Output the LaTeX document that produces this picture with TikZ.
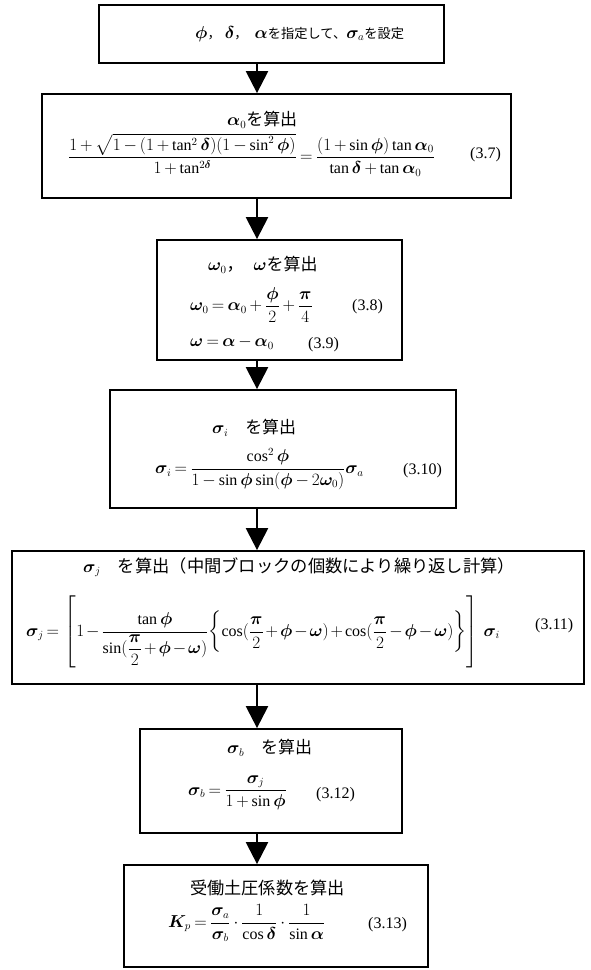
\documentclass[tikz,border=0pt]{standalone}
\usepackage{amsmath}
\usepackage{bm}
\usepackage{fontspec}
\setmainfont{Liberation Serif}
\newfontfamily\jp[Scale=1.06]{Noto Sans CJK JP}
\usetikzlibrary{arrows.meta}
\newcommand{\gphi}{\bm{\phi}}
\newcommand{\gdel}{\bm{\delta}}
\newcommand{\galp}{\bm{\alpha}}
\newcommand{\gome}{\bm{\omega}}
\newcommand{\gsig}{\bm{\sigma}}
\newcommand{\gpi}{\bm{\pi}}
\newcommand{\jpa}{\jp\fontsize{12.5}{15}\selectfont}
\newcommand{\jpb}{\jp\fontsize{16.3}{19}\selectfont}
\newcommand{\jpc}{\jp\fontsize{16.2}{19}\selectfont}
\newcommand{\tightmath}{\medmuskip 3mu\relax\thickmuskip 3.5mu\relax}
\newcommand{\tightermath}{\medmuskip 2mu\relax\thickmuskip 3mu\relax}
\tikzset{
  box/.style={draw, line width=1.8pt, inner sep=0pt},
  flow/.style={line width=2.4pt, -{Triangle[width=22pt,length=22pt]}},
  txt/.style={inner sep=0pt, anchor=west, font=\fontsize{16}{19}\selectfont},
  eqn/.style={inner sep=0pt, anchor=west, font=\fontsize{16}{19}\selectfont\tightmath},
  eqnt/.style={inner sep=0pt, anchor=west, font=\fontsize{16}{19}\selectfont\tightermath}
}
\begin{document}
\begin{tikzpicture}[x=1pt,y=-1pt]
\useasboundingbox (0,0) rectangle (590,970);
% boxes
\node[box, minimum width=345pt, minimum height=58pt]  (b1) at (271.5,34) {};
\node[box, minimum width=469pt, minimum height=104pt] (b2) at (276.5,146) {};
\node[box, minimum width=245pt, minimum height=120pt] (b3) at (279.5,300) {};
\node[box, minimum width=346pt, minimum height=118pt] (b4) at (283,449) {};
\node[box, minimum width=572pt, minimum height=133pt] (b5) at (298,617.5) {};
\node[box, minimum width=262pt, minimum height=104pt] (b6) at (271,781) {};
\node[box, minimum width=304pt, minimum height=102pt] (b7) at (276,916) {};
% connectors
\coordinate (ax) at (257,0);
\draw[flow] (ax |- b1.south) -- (ax |- b2.north);
\draw[flow] (ax |- b2.south) -- (ax |- b3.north);
\draw[flow] (ax |- b3.south) -- (ax |- b4.north);
\draw[flow] (ax |- b4.south) -- (ax |- b5.north);
\draw[flow] (ax |- b5.south) -- (ax |- b6.north);
\draw[flow] (ax |- b6.south) -- (ax |- b7.north);
% box 1
\node[txt] (t1) at (195,34) {$\gphi${\jpa ，}\hspace{4pt}$\gdel${\jpa ，}\hspace{7pt}$\galp${\jpa を指定して、}$\gsig_a${\jpa を設定}};
% box 2
\node[txt] (t2) at (227,120) {$\galp_0${\jp を算出}};
\node[eqn] (e7) at (68,155) {$\dfrac{1+\sqrt{1-(1+\tan^2\gdel)(1-\sin^2\gphi)}}{1+\tan^{2\gdel}}=\dfrac{(1+\sin\gphi)\tan\galp_0}{\tan\gdel+\tan\galp_0}$};
\node[txt] (n7) at (470,155) {(3.7)};
% box 3
\node[txt] (t3) at (208,265) {$\gome_0${\jp ，}\hspace{10pt}$\gome${\jp を算出}};
\node[eqn] (e8) at (190,305) {$\gome_0=\galp_0+\dfrac{\gphi}{2}+\dfrac{\gpi}{4}$};
\node[txt] (n8) at (352,307) {(3.8)};
\node[eqn] (e9) at (190,343) {$\gome=\galp-\galp_0$};
\node[txt] (n9) at (308,345) {(3.9)};
% box 4
\node[txt] (t4) at (212,428) {$\gsig_i${\jp 　を算出}};
\node[eqn] (e10) at (155,469) {$\gsig_i=\dfrac{\cos^2\gphi}{1-\sin\gphi\sin(\gphi-2\gome_0)}\gsig_a$};
\node[txt] (n10) at (403,471) {(3.10)};
% box 5
\node[txt] (t5) at (83,567) {$\gsig_j${\jpb 　を算出（中間ブロックの個数により繰り返し計算）}};
\node[eqnt] (e11) at (26,632) {$\gsig_j=\,\left[1-\dfrac{\tan\gphi}{\sin(\dfrac{\gpi}{2}+\gphi-\gome)}\biggl\{\cos(\dfrac{\gpi}{2}+\gphi-\gome)+\cos(\dfrac{\gpi}{2}-\gphi-\gome)\biggr\}\right]\,\gsig_i$};
\node[txt] (n11) at (535,626) {(3.11)};
% box 6
\node[txt] (t6) at (227,748) {$\gsig_b${\jp 　を算出}};
\node[eqn] (e12) at (188,793) {$\gsig_b=\dfrac{\gsig_j}{1+\sin\gphi}$};
\node[txt] (n12) at (316,795) {(3.12)};
% box 7
\node[txt] (t7) at (190,888) {{\jpc 受働土圧係数を算出}};
\node[eqn] (e13) at (168,923) {$\bm{K}_p=\dfrac{\gsig_a}{\gsig_b}\cdot\dfrac{1}{\cos\gdel}\cdot\dfrac{1}{\sin\galp}$};
\node[txt] (n13) at (368,925) {(3.13)};
\end{tikzpicture}
\end{document}
